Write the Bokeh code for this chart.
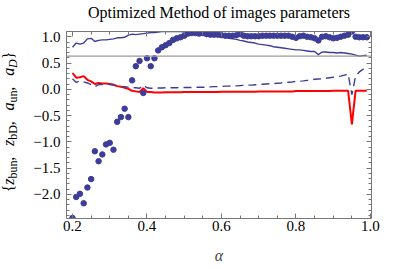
from bokeh.plotting import figure
from bokeh.layouts import row
from bokeh.models import Range1d, LinearAxis, FixedTicker, Span, Label
from bokeh.embed import file_html
from bokeh.resources import INLINE

# ---------------- data ----------------
alpha = [0.20, 0.21, 0.22, 0.23, 0.24, 0.25, 0.26, 0.27, 0.28, 0.29,
         0.30, 0.31, 0.32, 0.33, 0.34, 0.35, 0.36, 0.37, 0.38, 0.39,
         0.40, 0.41, 0.42, 0.43, 0.44, 0.45, 0.46, 0.47, 0.48, 0.49,
         0.50, 0.51, 0.52, 0.53, 0.54, 0.55, 0.56, 0.57, 0.58, 0.59,
         0.60, 0.61, 0.62, 0.63, 0.64, 0.65, 0.66, 0.67, 0.68, 0.69,
         0.70, 0.71, 0.72, 0.73, 0.74, 0.75, 0.76, 0.77, 0.78, 0.79,
         0.80, 0.81, 0.82, 0.83, 0.84, 0.85, 0.86, 0.87, 0.88, 0.89,
         0.90, 0.91, 0.92, 0.93, 0.94, 0.95, 0.96, 0.97, 0.98, 0.99]

z_bun = [-2.45, -2.05, -1.99, -2.17, -1.87, -1.71, -1.18, -1.37, -1.24, -1.05,
         -1.02, -1.15, -0.62, -0.53, -0.37, -0.53, 0.17, 0.44, 0.54, -0.07,
         0.59, 0.44, 0.59, 0.74, 0.80, 0.84, 0.88, 0.94, 0.97, 0.99,
         1.02, 1.06, 1.07, 1.07, 1.06, 1.07, 1.05, 1.04, 1.04, 1.04,
         1.03, 1.02, 1.02, 1.02, 1.03, 1.05, 1.02, 1.01, 1.01, 1.01,
         1.01, 1.02, 1.02, 1.02, 1.02, 1.02, 1.02, 1.02, 1.02, 1.00,
         0.98, 1.01, 1.02, 1.00, 0.99, 0.97, 0.93, 1.00, 1.01, 0.99,
         0.97, 0.98, 1.00, 1.02, 1.04, 1.10, 1.00, 0.99, 0.99, 0.99]

z_bD = [0.31, 0.22, 0.23, 0.25, 0.18, 0.15, 0.10, 0.12, 0.11, 0.11,
        0.10, 0.09, 0.06, 0.05, 0.03, 0.01, -0.03, -0.04, -0.05, 0.02,
        -0.05, -0.05, -0.06, -0.06, -0.06, -0.055, -0.055, -0.055, -0.055, -0.055,
        -0.05, -0.05, -0.05, -0.05, -0.05, -0.05, -0.05, -0.05, -0.05, -0.05,
        -0.045, -0.045, -0.045, -0.045, -0.045, -0.045, -0.045, -0.045, -0.045, -0.045,
        -0.04, -0.04, -0.04, -0.04, -0.04, -0.04, -0.04, -0.04, -0.04, -0.04,
        -0.035, -0.035, -0.035, -0.035, -0.035, -0.035, -0.035, -0.035, -0.035, -0.035,
        -0.03, -0.03, -0.03, -0.03, -0.03, -0.67, -0.03, -0.03, -0.03, -0.03]

a_un = [0.80, 0.88, 0.86, 0.88, 0.96, 0.97, 0.91, 0.93, 0.94, 0.94,
        0.95, 0.96, 0.98, 0.98, 0.99, 1.03, 1.05, 1.04, 1.05, 1.06,
        1.07, 1.08, 1.08, 1.09, 1.10, 1.10, 1.10, 1.10, 1.10, 1.10,
        1.09, 1.09, 1.08, 1.08, 1.07, 1.06, 1.05, 1.04, 1.03, 1.01,
        1.00, 0.99, 0.97, 0.96, 0.95, 0.93, 0.92, 0.90, 0.89, 0.88,
        0.86, 0.85, 0.84, 0.83, 0.81, 0.80, 0.79, 0.78, 0.77, 0.76,
        0.75, 0.75, 0.74, 0.73, 0.72, 0.72, 0.66, 0.71, 0.71, 0.70,
        0.70, 0.69, 0.70, 0.69, 0.68, 0.67, 0.65, 0.63, 0.64, 0.65]

a_D = [0.20, 0.13, 0.16, 0.14, 0.12, 0.09, 0.05, 0.09, 0.09, 0.10,
       0.09, 0.08, 0.06, 0.05, 0.05, 0.04, 0.03, 0.03, 0.02, 0.08,
       0.03, 0.02, 0.02, 0.025, 0.025, 0.03, 0.03, 0.03, 0.03, 0.035,
       0.035, 0.035, 0.035, 0.04, 0.04, 0.04, 0.04, 0.045, 0.05, 0.05,
       0.055, 0.06, 0.06, 0.065, 0.065, 0.07, 0.075, 0.08, 0.08, 0.085,
       0.09, 0.095, 0.10, 0.105, 0.11, 0.115, 0.12, 0.13, 0.135, 0.14,
       0.15, 0.155, 0.16, 0.17, 0.18, 0.19, 0.195, 0.20, 0.21, 0.22,
       0.23, 0.24, 0.25, 0.27, 0.29, -0.10, 0.25, 0.33, 0.38, 0.42]

ref_level = 0.63

x_ticks = [0.2, 0.4, 0.6, 0.8, 1.0]
x_tick_labels = ["0.2", "0.4", "0.6", "0.8", "1.0"]
x_minor = [0.2, 0.25, 0.3, 0.35, 0.4, 0.45, 0.5, 0.55, 0.6, 0.65,
           0.7, 0.75, 0.8, 0.85, 0.9, 0.95, 1.0]
y_ticks = [-2.0, -1.5, -1.0, -0.5, 0.0, 0.5, 1.0]
y_tick_labels = ["\u22122.0", "\u22121.5", "\u22121.0", "\u22120.5", "0.0", "0.5", "1.0"]
y_minor = [-2.4, -2.3, -2.2, -2.1, -2.0, -1.9, -1.8, -1.7, -1.6, -1.5,
           -1.4, -1.3, -1.2, -1.1, -1.0, -0.9, -0.8, -0.7, -0.6, -0.5,
           -0.4, -0.3, -0.2, -0.1, 0.0, 0.1, 0.2, 0.3, 0.4, 0.5,
           0.6, 0.7, 0.8, 0.9, 1.0, 1.1]

title_text = "Optimized Method of images parameters"
x_label = "\u03b1"
# y label pieces: (text, italic?, subscript?)
y_label_parts = [("{", False, False), ("z", True, False), ("bun", False, True),
                 (",", False, False), ("z", True, False), ("bD", False, True),
                 (",", False, False), ("a", True, False), ("un", False, True),
                 (",", False, False), ("a", True, False), ("D", True, True),
                 ("}", False, False)]

# ---------------- style ----------------
FONT = "Liberation Serif"
BLUE = "#3d3d99"
RED = "#ff0000"
FRAME = "#777777"

W, H = 399, 269
LW = 24                      # strip holding the rotated y label
BL, BR, BT, BB = 66, 28, 29, 51
X0, X1 = 0.1839, 1.0027
Y0, Y1 = -2.46, 1.10

p = figure(width=W - LW, height=H, output_backend="svg", toolbar_location=None,
           title=None,
           x_range=Range1d(X0, X1), y_range=Range1d(Y0, Y1),
           min_border_left=BL - LW, min_border_right=BR,
           min_border_top=BT, min_border_bottom=BB)
p.outline_line_color = None
p.xgrid.visible = False
p.ygrid.visible = False
p.background_fill_color = "white"
p.border_fill_color = "white"


def style_axis(ax, ticks, minor, labels, show_labels):
    ax.ticker = FixedTicker(ticks=ticks, minor_ticks=minor)
    ax.axis_line_color = FRAME
    ax.axis_line_width = 1
    ax.major_tick_line_color = FRAME
    ax.minor_tick_line_color = FRAME
    ax.major_tick_in = 5
    ax.major_tick_out = 0
    ax.minor_tick_in = 3
    ax.minor_tick_out = 0
    ax.major_label_text_font = FONT
    if show_labels:
        ax.major_label_overrides = {t: l for t, l in zip(ticks, labels)}
        ax.major_label_text_font_size = "15px"
        ax.major_label_text_color = "black"
        ax.major_label_standoff = 6
    else:
        ax.major_label_text_font_size = "0px"
        ax.major_label_text_color = None
        ax.major_label_text_alpha = 0
        ax.major_label_standoff = 0


style_axis(p.xaxis[0], x_ticks, x_minor, x_tick_labels, True)
style_axis(p.yaxis[0], y_ticks, y_minor, y_tick_labels, True)
p.xaxis[0].major_label_standoff = 2
p.xaxis[0].axis_label = x_label
p.xaxis[0].axis_label_text_font = FONT
p.xaxis[0].axis_label_text_font_style = "italic"
p.xaxis[0].axis_label_text_font_size = "16px"
p.xaxis[0].axis_label_standoff = 13

# top mirror axis carries the chart title as its label
top_ax = LinearAxis()
style_axis(top_ax, x_ticks, x_minor, x_tick_labels, False)
top_ax.axis_label = title_text
top_ax.axis_label_text_font = FONT
top_ax.axis_label_text_font_style = "normal"
top_ax.axis_label_text_font_size = "16px"
top_ax.axis_label_text_color = "black"
top_ax.axis_label_text_baseline = "bottom"
top_ax.axis_label_standoff = 11
p.add_layout(top_ax, "above")
right_ax = LinearAxis()
style_axis(right_ax, y_ticks, y_minor, y_tick_labels, False)
p.add_layout(right_ax, "right")

p.add_layout(Span(location=ref_level, dimension="width", line_color="#9a9a9a", line_width=1.2))

p.line(alpha, z_bD, line_color=RED, line_width=2)
p.line(alpha, a_un, line_color=BLUE, line_width=1.4)
p.line(alpha, a_D, line_color=BLUE, line_width=1.4, line_dash="8 5")
p.scatter(alpha, z_bun, size=5.5, fill_color=BLUE, line_color=BLUE)

# ---------------- rotated y label, built from pieces in a narrow strip ----------------
# the strip's frame is aligned with the main frame (rows BT .. H-BB), so its
# y range is expressed in canvas pixels measured from the bottom edge
lab = figure(width=LW, height=H, output_backend="svg", toolbar_location=None,
             title=None,
             x_range=Range1d(0, LW), y_range=Range1d(BB, H - BT),
             x_axis_location=None, y_axis_location=None,
             min_border_left=0, min_border_right=0,
             min_border_top=BT, min_border_bottom=BB)
lab.outline_line_color = None
lab.grid.visible = False
lab.background_fill_color = "white"
lab.border_fill_color = "white"

roman_w = {"{": 480, "}": 480, ",": 250, " ": 250, "b": 500, "u": 500, "n": 500, "D": 722}
italic_w = {"z": 389, "a": 500, "D": 722}
S_MAIN, S_SUB = 16, 12
SEP_GAP = 11.0
ASC, DESC = 0.891, 0.216
SHIFT = 3.0


def piece_width(txt, it, sub):
    table = italic_w if it else roman_w
    size = S_SUB if sub else S_MAIN
    w = sum(table.get(c, 500) for c in txt) / 1000.0 * size
    if txt == ",":
        w += SEP_GAP
    return w

total = sum(piece_width(t, i, s) for t, i, s in y_label_parts)
center_py = BT + (H - BT - BB) / 2.0 - 3.0
py = center_py + total / 2.0
for t, it, sub in y_label_parts:
    size = S_SUB if sub else S_MAIN
    base_px = 19.5 if sub else 16.0
    mid_px = base_px - (ASC - DESC) / 2.0 * size - SHIFT
    lab.add_layout(Label(x=mid_px, y=H - py, text=t, angle=1.5707963, angle_units="rad",
                         text_font=FONT, text_font_size=f"{size}px",
                         text_font_style="italic" if it else "normal",
                         text_align="left", text_baseline="middle", text_color="black"))
    py -= piece_width(t, it, sub)

layout = row(lab, p, spacing=0)

open("out.html", "w").write(file_html(layout, INLINE))
